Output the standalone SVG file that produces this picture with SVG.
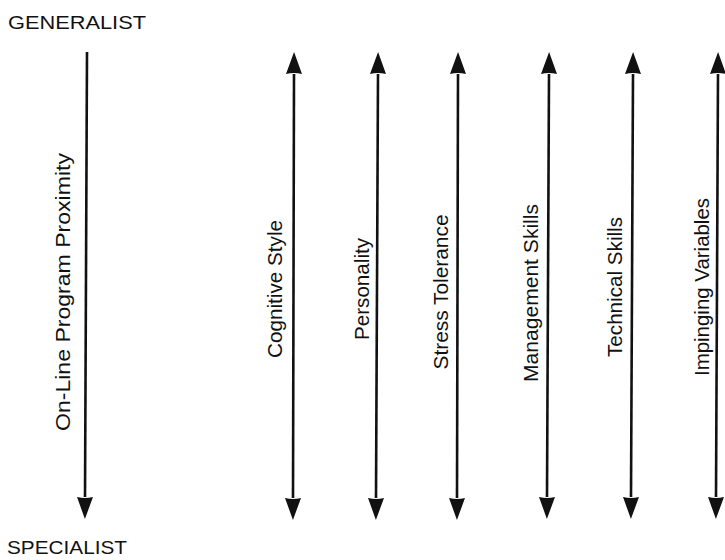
<svg xmlns="http://www.w3.org/2000/svg" width="725" height="560" viewBox="0 0 725 560">
<style>
.lbl{font-family:"Liberation Sans",Arial,sans-serif;font-size:20px;fill:#111;text-anchor:middle}
.end{font-family:"Liberation Sans",Arial,sans-serif;font-size:19px;fill:#111}
.ax{stroke:#111;stroke-width:2.6;fill:none}
</style>
<defs>
<marker id="ah" viewBox="0 -8.5 23 17" markerWidth="23" markerHeight="17" refX="0" refY="0" markerUnits="userSpaceOnUse" orient="auto-start-reverse">
<path d="M0,-8 L22,0 L0,8 Q2,0 0,-8 Z" fill="#111"/>
</marker>
</defs>
<rect width="725" height="560" fill="#fff"/>
<g id="generalist"><text class="end" x="8" y="29" textLength="138" lengthAdjust="spacingAndGlyphs">GENERALIST</text></g>
<g id="specialist"><text class="end" x="7" y="554" textLength="120" lengthAdjust="spacingAndGlyphs">SPECIALIST</text></g>
<g id="connectors">
<line class="ax" x1="87" y1="52" x2="85" y2="497" marker-end="url(#ah)"/>
<line class="ax" x1="294" y1="74" x2="293" y2="498" marker-start="url(#ah)" marker-end="url(#ah)"/>
<line class="ax" x1="378" y1="74" x2="376" y2="498" marker-start="url(#ah)" marker-end="url(#ah)"/>
<line class="ax" x1="458" y1="74" x2="457" y2="498" marker-start="url(#ah)" marker-end="url(#ah)"/>
<line class="ax" x1="549" y1="74" x2="547" y2="497" marker-start="url(#ah)" marker-end="url(#ah)"/>
<line class="ax" x1="633" y1="74" x2="631" y2="497" marker-start="url(#ah)" marker-end="url(#ah)"/>
<line class="ax" x1="718" y1="74" x2="716" y2="497" marker-start="url(#ah)" marker-end="url(#ah)"/>
</g>
<g id="online"><text class="lbl" transform="translate(70,292) rotate(-90)" textLength="278" lengthAdjust="spacingAndGlyphs">On-Line Program Proximity</text></g>
<g id="cognitive"><text class="lbl" transform="translate(282,289) rotate(-90)" textLength="138" lengthAdjust="spacingAndGlyphs">Cognitive Style</text></g>
<g id="personality"><text class="lbl" transform="translate(369,289) rotate(-90)" textLength="102" lengthAdjust="spacingAndGlyphs">Personality</text></g>
<g id="stress"><text class="lbl" transform="translate(448,292) rotate(-90)" textLength="155" lengthAdjust="spacingAndGlyphs">Stress Tolerance</text></g>
<g id="management"><text class="lbl" transform="translate(538,293) rotate(-90)" textLength="178" lengthAdjust="spacingAndGlyphs">Management Skills</text></g>
<g id="technical"><text class="lbl" transform="translate(622,287) rotate(-90)" textLength="140" lengthAdjust="spacingAndGlyphs">Technical Skills</text></g>
<g id="impinging"><text class="lbl" transform="translate(709,287) rotate(-90)" textLength="178" lengthAdjust="spacingAndGlyphs">Impinging Variables</text></g>
</svg>
